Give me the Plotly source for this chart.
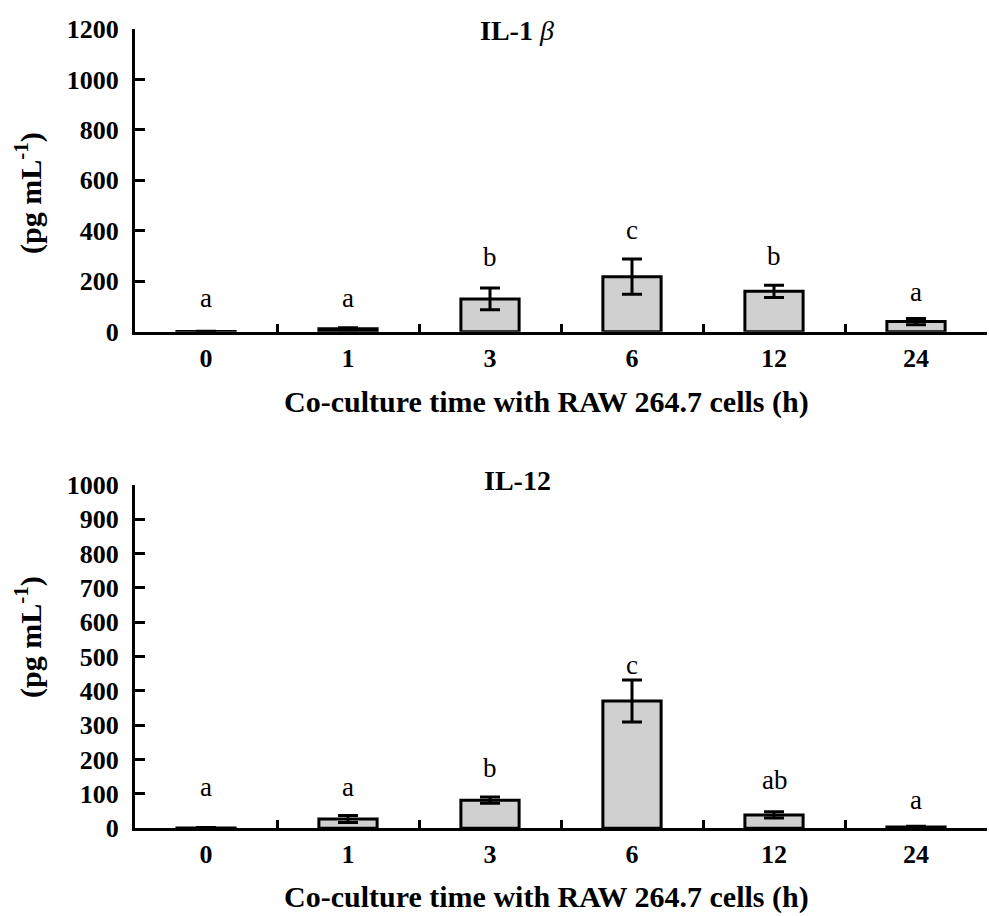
import plotly.graph_objects as go

categories = ["0", "1", "3", "6", "12", "24"]

il1b_values = [1, 12, 130, 218, 160, 40]
il1b_errors = [1, 4, 43, 70, 24, 12]
il1b_letters = ["a", "a", "b", "c", "b", "a"]
il1b_letter_y = [135, 135, 297, 405, 300, 158]

il12_values = [1, 27, 82, 371, 39, 4]
il12_errors = [1, 10, 9, 61, 9, 2]
il12_letters = ["a", "a", "b", "c", "ab", "a"]
il12_letter_y = [121, 121, 176, 476, 141, 83]

W, H = 989, 916
L, R = 135, 2
FONT = "Liberation Serif, Times New Roman, serif"

fig = go.Figure()

bar_style = dict(
    marker=dict(color="#d0d0d0", line=dict(color="black", width=3)),
    showlegend=False,
)

fig.add_trace(go.Bar(
    x=categories, y=il1b_values,
    error_y=dict(type="data", array=il1b_errors, visible=True,
                 color="black", thickness=3, width=10),
    xaxis="x", yaxis="y", **bar_style))

fig.add_trace(go.Bar(
    x=categories, y=il12_values,
    error_y=dict(type="data", array=il12_errors, visible=True,
                 color="black", thickness=3, width=10),
    xaxis="x2", yaxis="y2", **bar_style))

def py(p):
    return 1 - p / H

def px(p):
    return (p - L) / (W - L - R)

top_dom = [py(331.7), py(29)]
bot_dom = [py(828.3), py(485)]

axis_common = dict(
    showline=True, linecolor="black", linewidth=3,
    showgrid=False, zeroline=False, automargin=False,
    ticks="inside", tickcolor="black", tickwidth=3,
    tickfont=dict(family=FONT, size=26, color="black", weight="bold"),
)

fig.update_layout(
    width=W, height=H,
    margin=dict(l=L, r=R, t=0, b=0),
    paper_bgcolor="white", plot_bgcolor="white",
    bargap=0.59,
    xaxis=dict(domain=[0, 1], anchor="y", type="category", range=[-0.5, 5.5],
               tickson="boundaries", ticklen=8, tickangle=0,
               ticklabelstandoff=1, **axis_common),
    yaxis=dict(domain=top_dom, anchor="x", range=[0, 1200],
               tickvals=[0, 200, 400, 600, 800, 1000, 1200],
               ticklen=10, ticklabelstandoff=8, **axis_common),
    xaxis2=dict(domain=[0, 1], anchor="y2", type="category", range=[-0.5, 5.5],
                tickson="boundaries", ticklen=8, tickangle=0,
                ticklabelstandoff=0, **axis_common),
    yaxis2=dict(domain=bot_dom, anchor="x2", range=[0, 1000],
                tickvals=list(range(0, 1001, 100)),
                ticklen=10, ticklabelstandoff=8, **axis_common),
)

annotations = []
letter_font = dict(family=FONT, size=27, color="black")
for i, (t, yv) in enumerate(zip(il1b_letters, il1b_letter_y)):
    annotations.append(dict(x=i, y=yv, xref="x", yref="y", text=t, showarrow=False,
                            font=letter_font))
for i, (t, yv) in enumerate(zip(il12_letters, il12_letter_y)):
    annotations.append(dict(x=i, y=yv, xref="x2", yref="y2", text=t, showarrow=False,
                            font=letter_font))

title_font = dict(family=FONT, size=28, color="black", weight="bold")
axis_title_font = dict(family=FONT, size=30, color="black", weight="bold")
annotations += [
    dict(x=px(517), y=py(30), xref="paper", yref="paper",
         text="IL-1 <span style='font-weight:normal'><i>β</i></span>",
         showarrow=False, font=title_font, xanchor="center", yanchor="middle"),
    dict(x=px(517), y=py(480), xref="paper", yref="paper", text="IL-12",
         showarrow=False, font=title_font, xanchor="center", yanchor="middle"),
    dict(x=px(546), y=py(402), xref="paper", yref="paper",
         text="Co-culture time with RAW 264.7 cells (h)",
         showarrow=False, font=axis_title_font, xanchor="center", yanchor="middle"),
    dict(x=px(546), y=py(897), xref="paper", yref="paper",
         text="Co-culture time with RAW 264.7 cells (h)",
         showarrow=False, font=axis_title_font, xanchor="center", yanchor="middle"),
    dict(x=px(28), y=py(193), xref="paper", yref="paper", text="(pg mL<sup>-1</sup>)",
         showarrow=False, font=axis_title_font, textangle=-90, xanchor="center", yanchor="middle"),
    dict(x=px(28), y=py(637), xref="paper", yref="paper", text="(pg mL<sup>-1</sup>)",
         showarrow=False, font=axis_title_font, textangle=-90, xanchor="center", yanchor="middle"),
]

fig.update_layout(annotations=annotations)

fig.write_html("out.html")
